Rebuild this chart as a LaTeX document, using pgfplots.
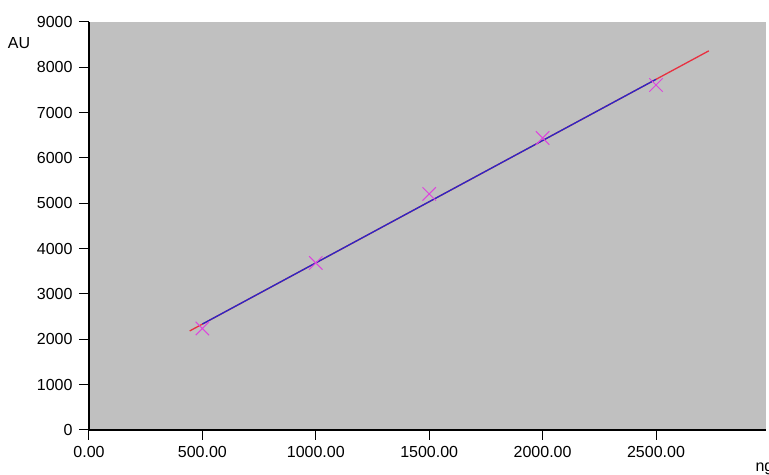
\documentclass[border=0pt]{standalone}
\usepackage{pgfplots}
\pgfplotsset{compat=1.18}
\usepackage{fontspec}
\setmainfont{Liberation Sans}
\definecolor{plotgray}{HTML}{C0C0C0}
\definecolor{xmag}{HTML}{DD44DD}
\definecolor{fitblue}{HTML}{2828C8}
\definecolor{fitred}{HTML}{E83040}
\begin{document}
\fontsize{16}{19}\selectfont
\begin{tikzpicture}
\begin{axis}[
  scale only axis,
  width=677pt, height=408pt,
  xmin=0, xmax=2985, ymin=0, ymax=9000,
  axis lines*=left,
  axis line style={black, line width=1.4pt, -},
  axis background/.style={fill=plotgray},
  xtick={0,500,1000,1500,2000,2500},
  ytick={0,1000,2000,3000,4000,5000,6000,7000,8000,9000},
  tick style={black, line width=1pt},
  tick align=outside,
  major tick length=10pt,
  xticklabel style={/pgf/number format/fixed, /pgf/number format/fixed zerofill, /pgf/number format/precision=2, /pgf/number format/1000 sep={}, yshift=-1pt},
  yticklabel style={/pgf/number format/1000 sep={}, xshift=-1pt},
  /pgf/number format/assume math mode=true,
  ticklabel style={font=\fontsize{16}{19}\selectfont},
  clip=false,
]
\coordinate (bl) at (rel axis cs:0,0);
\coordinate (tr) at (rel axis cs:1,1);
\addplot[fitred, line width=1.3pt] coordinates {(444,2185) (2733,8364)};
\addplot[fitblue, line width=1.3pt] coordinates {(500,2337) (2500,7735)};
\addplot[only marks, mark=x, mark size=9.5pt, xmag, mark options={line width=1pt}] coordinates {
  (500,2240) (1000,3684) (1500,5206) (2000,6441) (2500,7610)};
\end{axis}
\node[anchor=center, font=\fontsize{16}{19}\selectfont] at ([shift={(-70pt,-21pt)}]bl |- tr) {AU};
\node[anchor=west, font=\fontsize{16}{19}\selectfont] at ([shift={(-16pt,-39pt)}]tr |- bl) {ng};
\pgfresetboundingbox
\path[use as bounding box] ([shift={(-89pt,-45pt)}]bl) rectangle ([shift={(3pt,22pt)}]tr);
\end{tikzpicture}
\end{document}
